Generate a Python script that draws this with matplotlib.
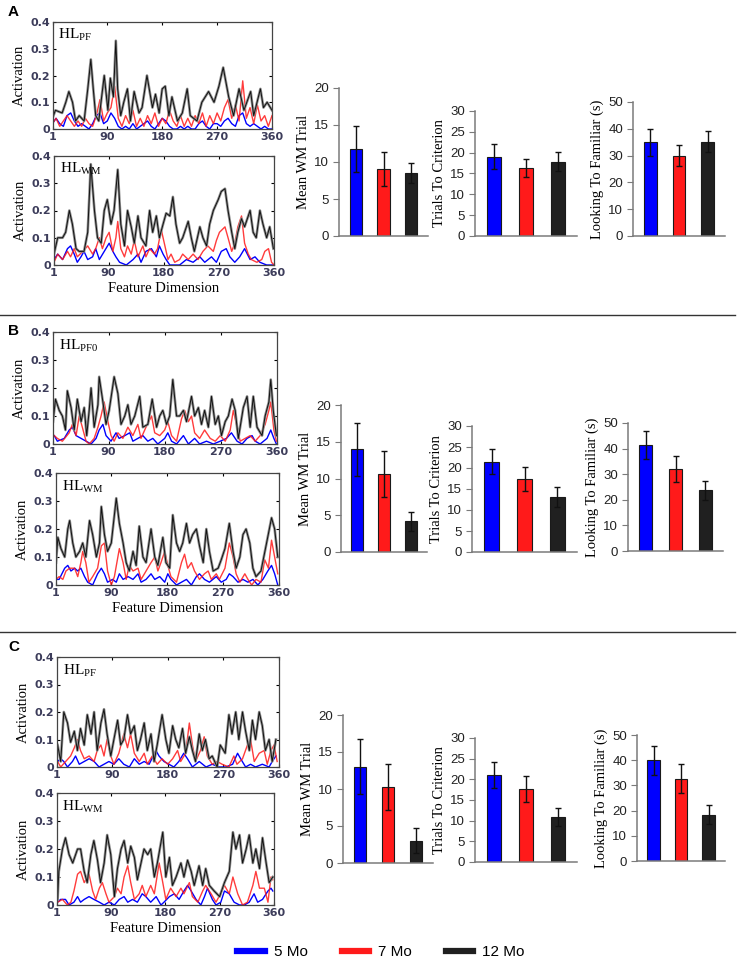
import matplotlib
matplotlib.use("Agg")
import matplotlib.pyplot as plt
from matplotlib.lines import Line2D

plt.rcParams['mathtext.fontset'] = 'custom'
plt.rcParams['mathtext.rm'] = 'Liberation Serif'

W, H = 740, 966

# activation traces, (feature dimension, activation)
grid6 = list(range(0, 361, 6))

A_PF_12 = [(0, .04), (5, .07), (16, .06), (22, .10), (27, .14), (33, .10), (38, .03), (44, .05), (52, .03),
           (58, .15), (63, .26), (67, .15), (71, .05), (76, .03), (85, .20), (91, .07), (95, .19), (100, .12),
           (104, .33), (107, .15), (112, .05), (117, .10), (123, .15), (128, .03), (134, .14), (142, .06),
           (147, .08), (155, .20), (164, .08), (169, .13), (175, .06), (180, .15), (185, .16), (191, .05),
           (196, .12), (205, .03), (213, .06), (221, .15), (226, .05), (237, .03), (245, .10), (256, .14),
           (265, .10), (273, .16), (280, .23), (289, .12), (297, .05), (306, .15), (314, .07), (325, .14),
           (330, .05), (341, .15), (346, .08), (352, .10), (360, .07)]
A_PF_7 = [.02, .04, .01, .03, .05, .03, .01, .03, .01, .04, .02, .01, .05, .11, .03, .06, .08, .16, .04, .01,
          .05, .02, .07, .01, .04, .01, .05, .02, .06, .01, .04, .02, .07, .03, .01, .05, .01, .04, .01, .05,
          .02, .06, .01, .05, .02, .06, .03, .08, .11, .04, .09, .03, .18, .04, .08, .02, .09, .03, .05, .01, .05]
A_PF_5 = [.02, .04, .02, .01, .05, .06, .03, .01, .02, .01, .00, .02, .05, .06, .02, .03, .06, .04, .01, .00,
          .01, .00, .02, .00, .01, .02, .03, .01, .00, .02, .04, .03, .01, .00, .00, .01, .00, .01, .00, .00,
          .02, .03, .01, .00, .02, .02, .01, .03, .04, .02, .01, .05, .06, .02, .01, .02, .01, .00, .01, .00, .00]

A_WM_12 = [(1, .04), (7, .10), (15, .10), (20, .12), (26, .20), (31, .15), (37, .06), (42, .05), (50, .05),
           (56, .12), (61, .37), (67, .20), (72, .10), (78, .08), (83, .20), (88, .24), (94, .15), (99, .20),
           (105, .35), (110, .15), (116, .07), (121, .20), (127, .14), (132, .08), (138, .18), (143, .10),
           (151, .07), (157, .20), (162, .12), (168, .18), (173, .10), (179, .15), (184, .19), (190, .18),
           (195, .25), (200, .15), (206, .08), (211, .10), (220, .16), (225, .10), (230, .05), (239, .14),
           (244, .10), (250, .07), (255, .15), (261, .20), (269, .24), (274, .27), (280, .28), (285, .20),
           (291, .12), (296, .06), (301, .12), (307, .17), (312, .14), (321, .20), (326, .12), (331, .10),
           (337, .20), (342, .15), (348, .10), (353, .14), (359, .06)]
A_WM_7 = [(1, .01), (7, .04), (15, .02), (23, .05), (28, .03), (34, .06), (39, .03), (48, .05), (56, .07),
          (64, .04), (69, .06), (75, .10), (80, .06), (86, .10), (91, .12), (97, .05), (102, .10), (105, .16),
          (110, .06), (116, .03), (121, .07), (127, .04), (132, .09), (138, .03), (146, .07), (151, .03),
          (157, .06), (165, .04), (170, .06), (176, .13), (181, .08), (187, .02), (192, .04), (198, .01),
          (206, .02), (211, .04), (220, .02), (228, .04), (236, .02), (244, .05), (252, .07), (261, .05),
          (266, .09), (271, .12), (280, .14), (285, .10), (291, .05), (296, .08), (301, .14), (307, .18),
          (312, .08), (318, .04), (323, .02), (332, .01), (340, .02), (345, .05), (351, .06), (356, .01), (360, .00)]
A_WM_5 = [(1, .02), (7, .04), (15, .02), (23, .06), (28, .07), (34, .04), (39, .01), (45, .03), (50, .05),
          (56, .02), (64, .03), (69, .06), (75, .02), (83, .05), (91, .08), (97, .05), (102, .03), (108, .01),
          (119, .00), (130, .02), (138, .04), (143, .01), (151, .05), (160, .06), (168, .03), (173, .07),
          (179, .04), (184, .02), (190, .00), (206, .00), (217, .02), (228, .01), (239, .03), (247, .01),
          (258, .03), (266, .01), (274, .05), (282, .06), (288, .03), (296, .01), (304, .03), (312, .06),
          (321, .02), (329, .03), (337, .01), (348, .00), (359, .00)]

B_PF_12 = [(1, .08), (5, .16), (11, .12), (16, .10), (21, .05), (24, .19), (30, .13), (35, .05), (40, .16),
           (46, .08), (51, .13), (55, .03), (59, .12), (62, .20), (67, .06), (73, .14), (75, .24), (81, .15),
           (86, .07), (91, .12), (99, .24), (105, .18), (110, .07), (116, .10), (121, .14), (126, .07),
           (132, .10), (140, .17), (145, .06), (153, .07), (160, .16), (167, .06), (172, .10), (177, .12),
           (183, .07), (188, .10), (193, .23), (199, .10), (204, .10), (210, .12), (215, .08), (223, .17),
           (228, .10), (234, .13), (239, .07), (244, .12), (250, .06), (255, .17), (261, .07), (266, .10),
           (271, .03), (277, .08), (282, .10), (288, .16), (293, .12), (298, .02), (306, .13), (312, .17),
           (317, .06), (322, .17), (328, .06), (336, .03), (341, .10), (347, .15), (350, .23), (354, .12), (359, .03)]
B_PF_7 = [(3, .03), (8, .02), (16, .01), (27, .04), (32, .07), (38, .03), (43, .10), (48, .06), (54, .01),
          (59, .00), (67, .02), (73, .06), (78, .10), (83, .15), (89, .08), (94, .03), (99, .01), (105, .04),
          (113, .02), (121, .06), (129, .03), (137, .07), (142, .02), (150, .06), (159, .10), (164, .04),
          (172, .03), (180, .05), (185, .08), (191, .03), (199, .01), (207, .09), (212, .12), (218, .08),
          (223, .10), (228, .04), (236, .02), (244, .05), (253, .02), (261, .01), (269, .03), (277, .01),
          (285, .05), (290, .12), (296, .06), (301, .01), (309, .02), (317, .03), (325, .01), (333, .03),
          (341, .07), (347, .12), (350, .15), (355, .05), (359, .01)]
B_PF_5 = [(3, .03), (8, .01), (19, .02), (27, .05), (32, .06), (38, .03), (46, .02), (54, .01), (62, .00),
          (70, .02), (75, .05), (81, .07), (86, .03), (94, .01), (102, .04), (107, .02), (116, .03), (124, .04),
          (129, .01), (137, .02), (145, .03), (153, .01), (161, .02), (169, .00), (180, .02), (185, .04),
          (191, .01), (199, .00), (210, .03), (218, .00), (228, .02), (236, .00), (247, .01), (258, .00),
          (269, .01), (279, .02), (287, .04), (296, .01), (304, .00), (312, .02), (320, .03), (325, .01),
          (333, .00), (344, .02), (350, .05), (355, .02), (359, .00)]

B_WM_12 = [(1, .08), (4, .17), (9, .13), (15, .10), (20, .20), (23, .23), (28, .15), (33, .10), (39, .12),
           (44, .15), (49, .10), (55, .23), (60, .18), (66, .10), (71, .15), (74, .28), (79, .18), (84, .12),
           (90, .15), (98, .31), (103, .22), (109, .15), (114, .08), (119, .05), (125, .12), (130, .07),
           (135, .21), (141, .10), (146, .08), (154, .20), (160, .10), (165, .07), (173, .17), (178, .08),
           (184, .06), (189, .25), (195, .15), (200, .12), (205, .15), (211, .22), (216, .15), (221, .18),
           (227, .20), (232, .14), (238, .08), (243, .20), (248, .12), (254, .05), (262, .06), (267, .09),
           (273, .13), (280, .22), (286, .12), (291, .06), (297, .10), (302, .18), (307, .20), (313, .15),
           (318, .06), (323, .03), (331, .05), (340, .15), (348, .24), (353, .20), (358, .10)]
B_WM_7 = [(1, .02), (6, .03), (12, .02), (17, .05), (23, .06), (31, .06), (36, .03), (41, .08), (44, .12),
          (49, .08), (54, .01), (60, .03), (68, .06), (74, .14), (79, .15), (84, .05), (90, .00), (95, .03),
          (103, .13), (109, .08), (114, .02), (119, .07), (125, .05), (133, .06), (138, .02), (146, .05),
          (154, .08), (160, .10), (165, .05), (170, .08), (176, .12), (181, .07), (186, .03), (195, .01),
          (203, .08), (208, .11), (213, .06), (219, .08), (224, .05), (232, .02), (240, .04), (246, .05),
          (251, .02), (259, .04), (264, .02), (273, .06), (280, .15), (286, .10), (291, .04), (297, .01),
          (305, .04), (310, .02), (316, .00), (323, .02), (331, .01), (337, .09), (343, .06), (348, .16),
          (353, .10), (358, .04)]
B_WM_5 = [(1, .02), (6, .02), (15, .06), (20, .07), (25, .05), (31, .06), (36, .05), (41, .06), (47, .03),
          (52, .01), (60, .00), (68, .04), (74, .06), (79, .04), (84, .01), (92, .02), (98, .01), (103, .04),
          (109, .02), (117, .03), (125, .02), (133, .04), (138, .01), (146, .02), (154, .04), (160, .02),
          (168, .03), (176, .01), (181, .04), (186, .02), (195, .00), (203, .01), (211, .02), (219, .00),
          (227, .03), (232, .04), (240, .02), (248, .01), (259, .03), (267, .01), (275, .02), (280, .04),
          (286, .03), (294, .01), (302, .02), (310, .01), (318, .02), (326, .00), (334, .02), (342, .05),
          (348, .07), (353, .04), (358, .00)]

C_PF_12 = [(2, .08), (7, .02), (12, .20), (18, .16), (23, .09), (29, .13), (34, .06), (39, .14), (45, .08),
           (50, .19), (56, .12), (61, .20), (66, .06), (72, .16), (77, .21), (82, .12), (88, .04), (93, .10),
           (99, .17), (104, .08), (109, .10), (115, .19), (120, .12), (126, .15), (131, .06), (136, .10),
           (142, .16), (147, .06), (153, .12), (158, .02), (163, .08), (171, .19), (177, .10), (182, .05),
           (188, .15), (193, .10), (198, .07), (204, .14), (209, .05), (215, .11), (220, .06), (225, .02),
           (231, .12), (236, .06), (241, .10), (247, .03), (252, .04), (260, .00), (265, .08), (273, .05),
           (279, .19), (284, .12), (290, .20), (295, .10), (301, .20), (306, .13), (312, .06), (317, .17),
           (322, .10), (328, .20), (333, .15), (338, .06), (344, .10), (349, .02), (355, .10)]
C_PF_7 = [(2, .02), (7, .00), (15, .02), (23, .04), (29, .07), (34, .10), (39, .06), (45, .03), (53, .04),
          (61, .02), (66, .06), (72, .08), (77, .04), (82, .10), (88, .04), (93, .01), (101, .05), (109, .12),
          (115, .07), (120, .12), (126, .05), (134, .02), (142, .05), (147, .01), (155, .04), (163, .01),
          (171, .03), (180, .01), (188, .03), (196, .06), (201, .02), (209, .05), (215, .16), (220, .08),
          (225, .02), (233, .06), (239, .11), (244, .04), (252, .01), (260, .02), (268, .01), (279, .00),
          (287, .04), (292, .01), (301, .03), (309, .08), (314, .10), (320, .02), (328, .05), (336, .06),
          (341, .01), (347, .06), (352, .08), (357, .02)]
C_PF_5 = [(2, .02), (7, .03), (12, .02), (18, .00), (26, .02), (31, .04), (37, .01), (45, .02), (53, .03),
          (61, .02), (69, .00), (77, .01), (85, .02), (93, .01), (101, .03), (109, .01), (118, .00), (126, .03),
          (134, .01), (142, .02), (150, .01), (161, .06), (166, .04), (174, .02), (182, .01), (190, .00),
          (198, .02), (206, .05), (212, .03), (220, .00), (231, .02), (242, .00), (252, .01), (263, .00),
          (274, .00), (285, .01), (293, .05), (298, .03), (306, .00), (314, .01), (322, .00), (333, .01),
          (344, .00), (349, .02), (355, .04)]

C_WM_12 = [(2, .02), (4, .12), (10, .20), (15, .24), (21, .18), (27, .15), (35, .20), (40, .20), (46, .12),
           (51, .08), (57, .18), (62, .23), (68, .16), (73, .08), (79, .15), (84, .25), (90, .18), (96, .03),
           (101, .13), (107, .20), (112, .23), (118, .15), (123, .21), (129, .17), (134, .09), (140, .15),
           (145, .20), (151, .18), (156, .20), (162, .10), (167, .15), (176, .26), (181, .10), (187, .17),
           (192, .07), (198, .10), (206, .15), (211, .10), (217, .16), (223, .12), (228, .07), (236, .14),
           (242, .07), (247, .13), (253, .07), (261, .05), (270, .03), (278, .08), (286, .12), (292, .26),
           (297, .20), (303, .25), (308, .15), (314, .20), (319, .25), (325, .15), (330, .20), (336, .13),
           (341, .24), (347, .15), (352, .08), (358, .10)]
C_WM_7 = [(2, .01), (10, .02), (18, .00), (24, .01), (29, .05), (35, .11), (40, .12), (46, .08), (51, .10),
          (54, .11), (60, .05), (65, .02), (71, .06), (76, .08), (82, .04), (87, .01), (96, .03), (101, .06),
          (107, .04), (112, .10), (118, .14), (123, .08), (129, .02), (137, .04), (142, .07), (148, .03),
          (156, .07), (162, .04), (170, .15), (176, .08), (181, .02), (189, .06), (198, .03), (206, .06),
          (211, .04), (220, .08), (225, .03), (234, .01), (242, .05), (247, .07), (256, .04), (264, .01),
          (269, .03), (278, .07), (286, .04), (292, .10), (300, .04), (308, .00), (316, .01), (325, .07),
          (330, .12), (336, .06), (344, .06), (350, .01), (355, .10), (358, .09)]
C_WM_5 = [(2, .01), (7, .02), (15, .02), (21, .00), (29, .01), (35, .03), (40, .01), (46, .02), (54, .03),
          (62, .02), (71, .01), (79, .00), (87, .01), (96, .00), (104, .02), (112, .03), (118, .01), (126, .02),
          (134, .01), (142, .04), (148, .03), (156, .01), (165, .03), (173, .00), (178, .01), (187, .03),
          (195, .04), (203, .02), (211, .05), (217, .07), (223, .05), (231, .02), (239, .00), (245, .03),
          (250, .06), (258, .02), (264, .00), (272, .01), (278, .05), (286, .04), (294, .01), (303, .00),
          (311, .00), (319, .01), (327, .04), (333, .01), (341, .02), (350, .05), (355, .06), (358, .05)]

# bar data: 5 Mo, 7 Mo, 12 Mo
groups = ["5 Mo", "7 Mo", "12 Mo"]
wm_A, wm_A_err = [11.7, 9.0, 8.5], [3.1, 2.3, 1.3]
tr_A, tr_A_err = [19.0, 16.3, 17.8], [3.0, 2.2, 2.3]
lk_A, lk_A_err = [35.0, 30.0, 35.2], [5.0, 4.0, 3.8]
wm_B, wm_B_err = [14.0, 10.6, 4.2], [3.6, 3.1, 1.3]
tr_B, tr_B_err = [21.5, 17.4, 13.1], [3.0, 2.8, 2.4]
lk_B, lk_B_err = [41.5, 32.0, 23.7], [5.5, 5.0, 3.8]
wm_C, wm_C_err = [13.0, 10.3, 3.0], [3.7, 3.1, 1.7]
tr_C, tr_C_err = [21.0, 17.6, 10.8], [3.2, 3.2, 2.2]
lk_C, lk_C_err = [40.0, 32.7, 18.3], [5.8, 5.7, 3.8]

BLUE, RED, BLACK = '#0000ff', '#ff1a1a', '#202020'
TICK_C = '#3c3c5a'


def px_axes(fig, l, r, t, b):
    return fig.add_axes([l / W, 1 - b / H, (r - l) / W, (b - t) / H])


def trace(ax, pts, color, lw, **kw):
    xs = [p[0] for p in pts]
    ys = [p[1] for p in pts]
    ax.plot(xs, ys, color=color, lw=lw, **kw)


def line_panel(ax, t12, t7, t5, sub, xlabel=False):
    if isinstance(t7[0], tuple):
        trace(ax, t5, BLUE, 1.0)
        trace(ax, t7, RED, 1.0, alpha=0.85)
    else:
        ax.plot(grid6, t5, color=BLUE, lw=1.0)
        ax.plot(grid6, t7, color=RED, lw=1.0, alpha=0.85)
    trace(ax, t12, '#909090', 1.9)
    trace(ax, t12, '#111111', 0.7)
    ax.set_xlim(1, 360)
    ax.set_ylim(0, 0.4)
    ax.set_xticks([1, 90, 180, 270, 360])
    ax.set_yticks([0, 0.1, 0.2, 0.3, 0.4])
    ax.set_yticklabels(['0', '0.1', '0.2', '0.3', '0.4'])
    ax.tick_params(direction='in', top=True, right=True, length=2.5, width=0.8,
                   labelsize=8, labelcolor=TICK_C, pad=2)
    for lab in ax.get_xticklabels() + ax.get_yticklabels():
        lab.set_fontweight('bold')
    for s in ax.spines.values():
        s.set_color('#444444')
        s.set_linewidth(0.9)
    ax.set_ylabel('Activation', family='Liberation Serif', fontsize=10.5, labelpad=3)
    ax.text(0.025, 0.88, r'$\mathrm{HL}_{\mathrm{' + sub + '}}$', transform=ax.transAxes,
            fontsize=11, va='center', ha='left')
    if xlabel:
        ax.set_xlabel('Feature Dimension', family='Liberation Serif', fontsize=10.5, labelpad=3)


def bar_panel(ax, vals, errs, top, step, ylabel):
    pos = [0, 1, 2]
    ax.bar(pos, vals, width=0.44, color=[BLUE, RED, BLACK], edgecolor='#1a1a1a', linewidth=0.8,
           yerr=errs, capsize=2.5, error_kw=dict(ecolor='#111111', elinewidth=1.0, capthick=1.0))
    ax.set_xlim(-0.6, 2.6)
    ax.set_ylim(0, top)
    ax.set_yticks(list(range(0, top + 1, step)))
    ax.set_xticks([])
    for s in ['top', 'right']:
        ax.spines[s].set_visible(False)
    for s in ['left', 'bottom']:
        ax.spines[s].set_color('#7a7a7a')
        ax.spines[s].set_linewidth(1.1)
    ax.tick_params(axis='y', direction='out', length=4, color='#7a7a7a', labelsize=9.5,
                   labelcolor='#222222', pad=3)
    for lab in ax.get_yticklabels():
        lab.set_family('Liberation Sans')
    ax.set_ylabel(ylabel, family='Liberation Serif', fontsize=10.5, labelpad=3)


fig = plt.figure(figsize=(W / 100, H / 100), dpi=100)

line_rows = [
    ((53, 272, 22, 129), (54, 274, 156, 265), A_PF_12, A_PF_7, A_PF_5, 'PF', A_WM_12, A_WM_7, A_WM_5),
    ((53, 277, 332, 444), (56, 279, 473, 585), B_PF_12, B_PF_7, B_PF_5, 'PF0', B_WM_12, B_WM_7, B_WM_5),
    ((57, 279, 657, 767), (57, 274, 793, 905), C_PF_12, C_PF_7, C_PF_5, 'PF', C_WM_12, C_WM_7, C_WM_5),
]
for r_top, r_bot, p12, p7, p5, sub, w12, w7, w5 in line_rows:
    ax = px_axes(fig, *r_top)
    line_panel(ax, p12, p7, p5, sub)
    ax = px_axes(fig, *r_bot)
    line_panel(ax, w12, w7, w5, 'WM', xlabel=True)

bar_rows = [
    [((339, 428, 88, 236), wm_A, wm_A_err), ((475, 577, 111, 236), tr_A, tr_A_err),
     ((633, 725, 102, 236), lk_A, lk_A_err)],
    [((341, 427, 405, 552), wm_B, wm_B_err), ((472, 577, 426, 552), tr_B, tr_B_err),
     ((628, 723, 423, 551), lk_B, lk_B_err)],
    [((343, 433, 715, 863), wm_C, wm_C_err), ((475, 577, 738, 862), tr_C, tr_C_err),
     ((637, 725, 735, 861), lk_C, lk_C_err)],
]
specs = [(20, 5, 'Mean WM Trial'), (30, 5, 'Trials To Criterion'), (50, 10, 'Looking To Familiar (s)')]
for row in bar_rows:
    for (rect, vals, errs), (top, step, lab) in zip(row, specs):
        ax = px_axes(fig, *rect)
        bar_panel(ax, vals, errs, top, step, lab)

# panel letters and separators
for letter, y in [('A', 12), ('B', 331), ('C', 647)]:
    fig.text(8 / W, 1 - y / H, letter, fontsize=11, fontweight='bold', family='Liberation Sans',
             va='center', ha='left')
for y in [315, 632]:
    fig.add_artist(Line2D([0, 735 / W], [1 - y / H, 1 - y / H], color='#333333', lw=1.0))

handles = [Line2D([], [], color=c, lw=4.5) for c in [BLUE, RED, BLACK]]
leg = fig.legend(handles, groups, loc='center', bbox_to_anchor=(0.515, 1 - 952 / H), ncol=3,
                 frameon=False, handlelength=1.8, columnspacing=2.2, handletextpad=0.6,
                 prop={'family': 'Liberation Sans', 'size': 11})

fig.savefig('out.png', dpi=100)
